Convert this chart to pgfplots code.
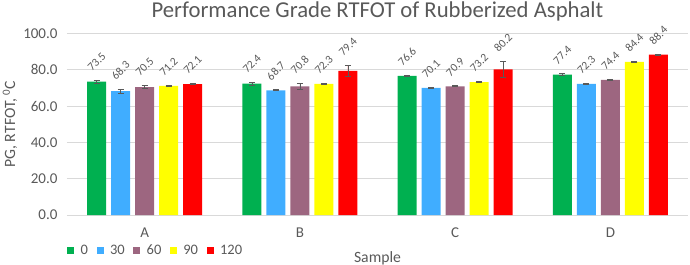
\documentclass[border=0pt]{standalone}
\usepackage{fontspec}
\setmainfont{Carlito}
\usepackage{pgfplots}
\usepackage{pgfplotstable}
\pgfplotsset{compat=1.18}
\definecolor{txt}{HTML}{595959}
\definecolor{gridc}{HTML}{D9D9D9}
\definecolor{cgreen}{HTML}{00B050}
\definecolor{cblue}{HTML}{40ADFF}
\definecolor{cpurple}{HTML}{9D6680}
\definecolor{cyellow}{HTML}{FFFF00}
\definecolor{cred}{HTML}{FF0000}
\pgfplotstableread{
x y e
0 73.5 0.8
1 72.4 0.8
2 76.6 0.3
3 77.4 0.4
}\tzero
\pgfplotstableread{
x y e
0 68.3 1.1
1 68.7 0.3
2 70.1 0.2
3 72.3 0.3
}\tthirty
\pgfplotstableread{
x y e
0 70.5 0.9
1 70.8 1.6
2 70.9 0.3
3 74.4 0.3
}\tsixty
\pgfplotstableread{
x y e
0 71.2 0.3
1 72.3 0.3
2 73.2 0.4
3 84.4 0.3
}\tninety
\pgfplotstableread{
x y e
0 72.1 0.3
1 79.4 3.0
2 80.2 4.3
3 88.4 0.3
}\tonetwenty
\pgfplotsset{mybar/.style={fill=#1, draw=none,
  error bars/y dir=both, error bars/y explicit,
  error bars/error bar style={draw=txt, line width=0.75bp},
  error bars/error mark options={rotate=90, mark size=3bp, draw=txt, line width=0.75bp},
  point meta=explicit symbolic,
  visualization depends on={rawy \as \myy},
  nodes near coords={\rotatebox{45}{\pgfmathprintnumber[fixed,fixed zerofill,precision=1]{\myy}}},
  every node near coord/.append style={font=\fontsize{11.5bp}{13bp}\selectfont, text=txt, inner sep=0pt, anchor=south, yshift=\pgfplotspointmeta*1.815bp+8.5bp},
}}
\begin{document}
\begin{tikzpicture}
\useasboundingbox (-67bp,-50bp) rectangle (623bp,215bp);
\begin{axis}[
  at={(0,0)}, anchor=south west,
  scale only axis, width=621bp, height=181.5bp,
  xmin=-0.5, xmax=3.5, ymin=0, ymax=100,
  ybar=5bp, bar width=19bp,
  xtick={0,1,2,3}, xticklabels={A,B,C,D},
  ytick={0,20,40,60,80,100},
  ymajorgrids, major grid style={draw=gridc, line width=0.75bp},
  axis line style={draw=none},
  major tick length=0pt,
  /pgf/number format/assume math mode=true,
  ticklabel style={font=\fontsize{15bp}{17bp}\selectfont, text=txt},
  yticklabel style={/pgf/number format/fixed, /pgf/number format/fixed zerofill, /pgf/number format/precision=1, xshift=-6bp},
  xticklabel style={yshift=-9bp},
  title={Performance Grade RTFOT of Rubberized Asphalt},
  title style={at={(axis description cs:0.5,1)}, yshift=16.5bp, anchor=center, font=\fontsize{22.7bp}{26bp}\selectfont, text=txt},
  xlabel={Sample},
  ylabel={PG, RTFOT, \textsuperscript{0}C},
  every axis x label/.style={at={(axis description cs:0.5,0)}, yshift=-43bp, anchor=center, font=\fontsize{15.7bp}{18bp}\selectfont, text=txt},
  every axis y label/.style={at={(axis description cs:0,0.5)}, xshift=-57bp, rotate=90, anchor=center, font=\fontsize{15.7bp}{18bp}\selectfont, text=txt},
  legend style={at={(axis description cs:0,-0.195)}, anchor=west, draw=none, fill=none, legend columns=-1,
    font=\fontsize{14.5bp}{17bp}\selectfont, text=txt, inner sep=0pt,
    /tikz/every odd column/.append style={column sep=4.5bp},
    /tikz/every even column/.append style={column sep=6.5bp}},
  legend image code/.code={\fill[#1] (0bp,-3.5bp) rectangle (7bp,3.5bp);},
]
\addplot[mybar=cgreen] table[x=x, y=y, y error=e, meta=e] {\tzero};
\addlegendentry{0}
\addplot[mybar=cblue] table[x=x, y=y, y error=e, meta=e] {\tthirty};
\addlegendentry{30}
\addplot[mybar=cpurple] table[x=x, y=y, y error=e, meta=e] {\tsixty};
\addlegendentry{60}
\addplot[mybar=cyellow] table[x=x, y=y, y error=e, meta=e] {\tninety};
\addlegendentry{90}
\addplot[mybar=cred] table[x=x, y=y, y error=e, meta=e] {\tonetwenty};
\addlegendentry{120}
\end{axis}
\end{tikzpicture}
\end{document}
